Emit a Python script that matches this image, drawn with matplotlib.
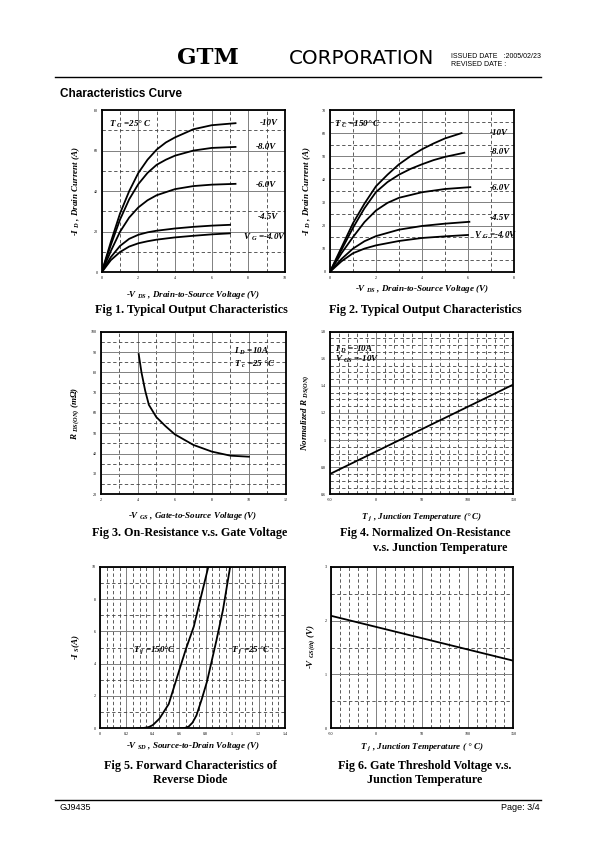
import matplotlib
matplotlib.use('Agg')
import matplotlib.pyplot as plt
from matplotlib.ticker import MultipleLocator, FuncFormatter

plt.rcParams['mathtext.fontset'] = 'custom'
plt.rcParams['mathtext.it'] = 'Liberation Serif:italic:bold'
plt.rcParams['mathtext.rm'] = 'Liberation Serif:italic:bold'
plt.rcParams['mathtext.bf'] = 'Liberation Serif:bold'

# ---------------- data ----------------
# Fig 1 (Tc=25C)
f1_x_10 = [0, 0.5, 1, 1.5, 2, 2.5, 3, 3.5, 4, 5, 6, 7.3]
f1_y_10 = [0, 15, 29, 40, 49, 55.5, 60.5, 64, 66.5, 70.5, 72.5, 73.5]
f1_x_8 = [0, 0.5, 1, 1.5, 2, 2.5, 3, 3.5, 4, 5, 6, 7.3]
f1_y_8 = [0, 13.5, 26, 36, 43.5, 49, 53, 55.5, 57.5, 60, 61.3, 61.8]
f1_x_6 = [0, 0.5, 1, 1.5, 2, 2.5, 3, 4, 5, 6, 7.3]
f1_y_6 = [0, 10.5, 20, 27, 32, 35.5, 38, 41, 42.5, 43.2, 43.6]
f1_x_45 = [0, 0.5, 1, 1.5, 2, 2.5, 3, 4, 5, 6, 7.0]
f1_y_45 = [0, 7.5, 13, 16.5, 18.5, 19.7, 20.5, 21.6, 22.4, 23.0, 23.4]
f1_x_4 = [0, 0.5, 1, 1.5, 2, 2.5, 3, 4, 5, 6, 7.0]
f1_y_4 = [0, 6, 10, 12.7, 14.3, 15.3, 16.1, 17.2, 18.0, 18.7, 19.2]

# Fig 2 (Tc=150C)
f2_x_10 = [0, 0.5, 1, 1.5, 2, 2.5, 3, 3.5, 4, 4.5, 5, 5.72]
f2_y_10 = [0, 10.5, 21, 29.5, 37, 42, 46.5, 50, 53, 55.5, 57.7, 60]
f2_x_8 = [0, 0.5, 1, 1.5, 2, 2.5, 3, 3.5, 4, 4.5, 5, 5.84]
f2_y_8 = [0, 9.5, 19, 27.5, 34.5, 38.8, 42, 44.5, 46.5, 48.3, 49.7, 51.5]
f2_x_6 = [0, 0.5, 1, 1.5, 2, 2.5, 3, 4, 5, 6.1]
f2_y_6 = [0, 8, 15, 21.5, 26.5, 29.8, 32, 34.4, 35.8, 36.6]
f2_x_45 = [0, 0.5, 1, 1.5, 2, 3, 4, 5, 6.06]
f2_y_45 = [0, 5.5, 10, 13.2, 15.4, 18.2, 19.8, 20.8, 21.6]
f2_x_4 = [0, 0.5, 1, 1.5, 2, 3, 4, 5, 6.0]
f2_y_4 = [0, 4.5, 8, 10, 11.4, 13.3, 14.6, 15.3, 15.9]

# Fig 3
f3_vgs = [4.05, 4.2, 4.4, 4.6, 5.0, 5.5, 6.0, 7.0, 8.0, 9.0, 10.0]
f3_rds = [89, 80, 71, 64, 58, 53.5, 49.5, 44.3, 41, 39, 38.5]

# Fig 4
f4_tj = [-50, 150]
f4_rn = [0.75, 1.41]

# Fig 5
f5_v150 = [0.28, 0.33, 0.37, 0.40, 0.45, 0.52, 0.60, 0.65, 0.71, 0.76, 0.82]
f5_i150 = [0, 0.02, 0.08, 0.2, 0.6, 1.5, 3.6, 4.9, 6.3, 8.0, 10]
f5_v25 = [0.60, 0.64, 0.67, 0.70, 0.73, 0.77, 0.81, 0.88, 0.93, 0.985]
f5_i25 = [0, 0.02, 0.1, 0.35, 0.8, 1.8, 2.9, 5.4, 7.3, 10]

# Fig 6
f6_tj = [-50, 150]
f6_vth = [2.09, 1.255]

# ---------------- figure ----------------
W, H = 595, 842
fig = plt.figure(figsize=(W / 100, H / 100), dpi=100)
SERIF = 'Liberation Serif'


def fx(x):
    return x / W


def fy(y):
    return 1 - y / H


def ax_at(l, t, r, b):
    return fig.add_axes([l / W, 1 - b / H, (r - l) / W, (b - t) / H])


def fmt_num(v, pos):
    s = ('%.2f' % v).rstrip('0').rstrip('.')
    if s == '-0':
        s = '0'
    return s


def style(ax, xlim, ylim, xmaj, xmin, ymaj, ymin):
    ax.set_xlim(*xlim)
    ax.set_ylim(*ylim)
    ax.xaxis.set_major_locator(MultipleLocator(xmaj))
    ax.xaxis.set_minor_locator(MultipleLocator(xmin))
    ax.yaxis.set_major_locator(MultipleLocator(ymaj))
    ax.yaxis.set_minor_locator(MultipleLocator(ymin))
    ax.xaxis.set_major_formatter(FuncFormatter(fmt_num))
    ax.yaxis.set_major_formatter(FuncFormatter(fmt_num))
    ax.grid(which='major', color='#808080', lw=0.7, ls='-')
    ax.grid(which='minor', color='#404040', lw=0.6, ls=(0, (4, 3)))
    ax.tick_params(which='both', length=0, labelsize=3, pad=3)
    for lab in ax.get_xticklabels() + ax.get_yticklabels():
        lab.set_family(SERIF)
    for sp in ax.spines.values():
        sp.set_linewidth(1.3)
    ax.set_axisbelow(True)


def atext(ax, x, y, s, **kw):
    ax.text(x, y, s, transform=ax.transAxes, fontsize=6.5, family=SERIF,
            style='italic', weight='bold', **kw)


LW = 1.3

# Fig 1
ax1 = ax_at(101.7, 110, 285, 272.3)
style(ax1, (0, 10), (0, 80), 2, 1, 20, 10)
for x, y in [(f1_x_10, f1_y_10), (f1_x_8, f1_y_8), (f1_x_6, f1_y_6),
             (f1_x_45, f1_y_45), (f1_x_4, f1_y_4)]:
    ax1.plot(x, y, color='black', lw=LW)
atext(ax1, 0.04, 0.91, r'$T$ $_C$ =25° C', va='center')
atext(ax1, 0.86, 0.92, '-10V', va='center')
atext(ax1, 0.84, 0.77, '-8.0V', va='center')
atext(ax1, 0.84, 0.54, '-6.0V', va='center')
atext(ax1, 0.85, 0.34, '-4.5V', va='center')
atext(ax1, 0.77, 0.215, r'$V$ $_G$ =-4.0V', va='center')

# Fig 2
ax2 = ax_at(330, 110, 514, 271.7)
style(ax2, (0, 8), (0, 70), 2, 1, 10, 5)
for x, y in [(f2_x_10, f2_y_10), (f2_x_8, f2_y_8), (f2_x_6, f2_y_6),
             (f2_x_45, f2_y_45), (f2_x_4, f2_y_4)]:
    ax2.plot(x, y, color='black', lw=LW)
atext(ax2, 0.02, 0.91, r'$T$ $_C$ =150° C', va='center')
atext(ax2, 0.87, 0.86, '-10V', va='center')
atext(ax2, 0.87, 0.74, '-8.0V', va='center')
atext(ax2, 0.87, 0.52, '-6.0V', va='center')
atext(ax2, 0.87, 0.33, '-4.5V', va='center')
atext(ax2, 0.78, 0.225, r'$V$ $_G$ =-4.0V', va='center')

# Fig 3
ax3 = ax_at(100.7, 331.7, 286, 494.3)
style(ax3, (2, 12), (20, 100), 2, 1, 10, 5)
ax3.plot(f3_vgs, f3_rds, color='black', lw=LW)
atext(ax3, 0.72, 0.88, r'$I$ $_D$ =10A', va='center')
atext(ax3, 0.72, 0.80, r'$T$ $_c$ =25 °C', va='center')

# Fig 4
ax4 = ax_at(330, 331.7, 513.3, 494.3)
style(ax4, (-50, 150), (0.6, 1.8), 50, 10, 0.2, 0.05)
ax4.plot(f4_tj, f4_rn, color='black', lw=LW)
atext(ax4, 0.03, 0.89, r'$I$ $_D$ =-10A', va='center')
atext(ax4, 0.03, 0.83, r'$V$ $_{GS}$ =-10V', va='center')

# Fig 5
ax5 = ax_at(100, 566.7, 285, 728.3)
style(ax5, (0, 1.4), (0, 10), 0.2, 0.05, 2, 1)
ax5.plot(f5_v150, f5_i150, color='black', lw=LW)
ax5.plot(f5_v25, f5_i25, color='black', lw=LW)
atext(ax5, 0.18, 0.485, r'$T$ $_j$ =150°C', va='center')
atext(ax5, 0.71, 0.485, r'$T$ $_j$ =25 °C', va='center')

# Fig 6
ax6 = ax_at(330.7, 566.7, 513.3, 728.3)
style(ax6, (-50, 150), (0, 3), 50, 10, 1, 0.5)
ax6.plot(f6_tj, f6_vth, color='black', lw=LW)


# axis labels (figure text)
def lab(x, y, s, rot=0, size=6.5):
    fig.text(fx(x), fy(y), s, ha='center', va='center', rotation=rot,
             fontsize=size, family=SERIF, style='italic', weight='bold')


lab(193, 295, r'-$V$ $_{DS}$ , Drain-to-Source Voltage (V)')
lab(422, 289, r'-$V$ $_{DS}$ , Drain-to-Source Voltage (V)')
lab(193, 516, r'-$V$ $_{GS}$ , Gate-to-Source Voltage (V)')
lab(422, 517, r'$T$ $_j$ , Junction Temperature (° C)')
lab(193, 746, r'-$V$ $_{SD}$ , Source-to-Drain Voltage (V)')
lab(422, 747, r'$T$ $_j$ , Junction Temperature ( ° C)')

lab(76, 191, r'-$I$ $_D$ , Drain Current (A)', rot=90)
lab(307, 191, r'-$I$ $_D$ , Drain Current (A)', rot=90)
lab(76, 413, r'$R$ $_{DS(ON)}$ (m$\Omega$)', rot=90)
lab(306, 413, r'Normalized $R$ $_{DS(ON)}$', rot=90)
lab(76, 647, r'-$I$ $_S$(A)', rot=90)
lab(312, 647, r'-$V$ $_{GS(th)}$ (V)', rot=90)


# captions
def cap(x, y, s):
    fig.text(fx(x), fy(y), s, ha='center', va='center', fontsize=8.7,
             family=SERIF, weight='bold')


cap(191, 310, 'Fig 1. Typical Output Characteristics')
cap(425, 310, 'Fig 2. Typical Output Characteristics')
cap(190, 533, 'Fig 3. On-Resistance v.s. Gate Voltage')
cap(425, 533, 'Fig 4. Normalized On-Resistance')
cap(440, 548, 'v.s. Junction Temperature')
cap(190, 766, 'Fig 5. Forward Characteristics of')
cap(190, 780, 'Reverse Diode')
cap(425, 766, 'Fig 6. Gate Threshold Voltage v.s.')
cap(425, 780, 'Junction Temperature')

# header
fig.text(fx(208), fy(58), 'GTM', ha='center', va='center', fontsize=16.5,
         family='DejaVu Serif', weight='bold')
fig.text(fx(362), fy(59), 'CORPORATION', ha='center', va='center', fontsize=14.3,
         family='DejaVu Sans')
fig.text(fx(451), fy(57), 'ISSUED DATE   :2005/02/23', ha='left', va='center',
         fontsize=5.0, family='Liberation Sans')
fig.text(fx(451), fy(65), 'REVISED DATE :', ha='left', va='center',
         fontsize=5.0, family='Liberation Sans')
fig.add_artist(plt.Line2D([fx(55), fx(541)], [fy(77), fy(77)], color='black', lw=1.0))
fig.text(fx(60), fy(94), 'Characteristics Curve', ha='left', va='center',
         fontsize=8.5, family='Liberation Sans', weight='bold')

# footer
fig.add_artist(plt.Line2D([fx(55), fx(541)], [fy(800), fy(800)], color='black', lw=1.0))
fig.text(fx(60), fy(808), 'GJ9435', ha='left', va='center', fontsize=6.5,
         family='Liberation Sans')
fig.text(fx(540), fy(808), 'Page: 3/4', ha='right', va='center', fontsize=6.5,
         family='Liberation Sans')

fig.savefig('out.png', dpi=100)
